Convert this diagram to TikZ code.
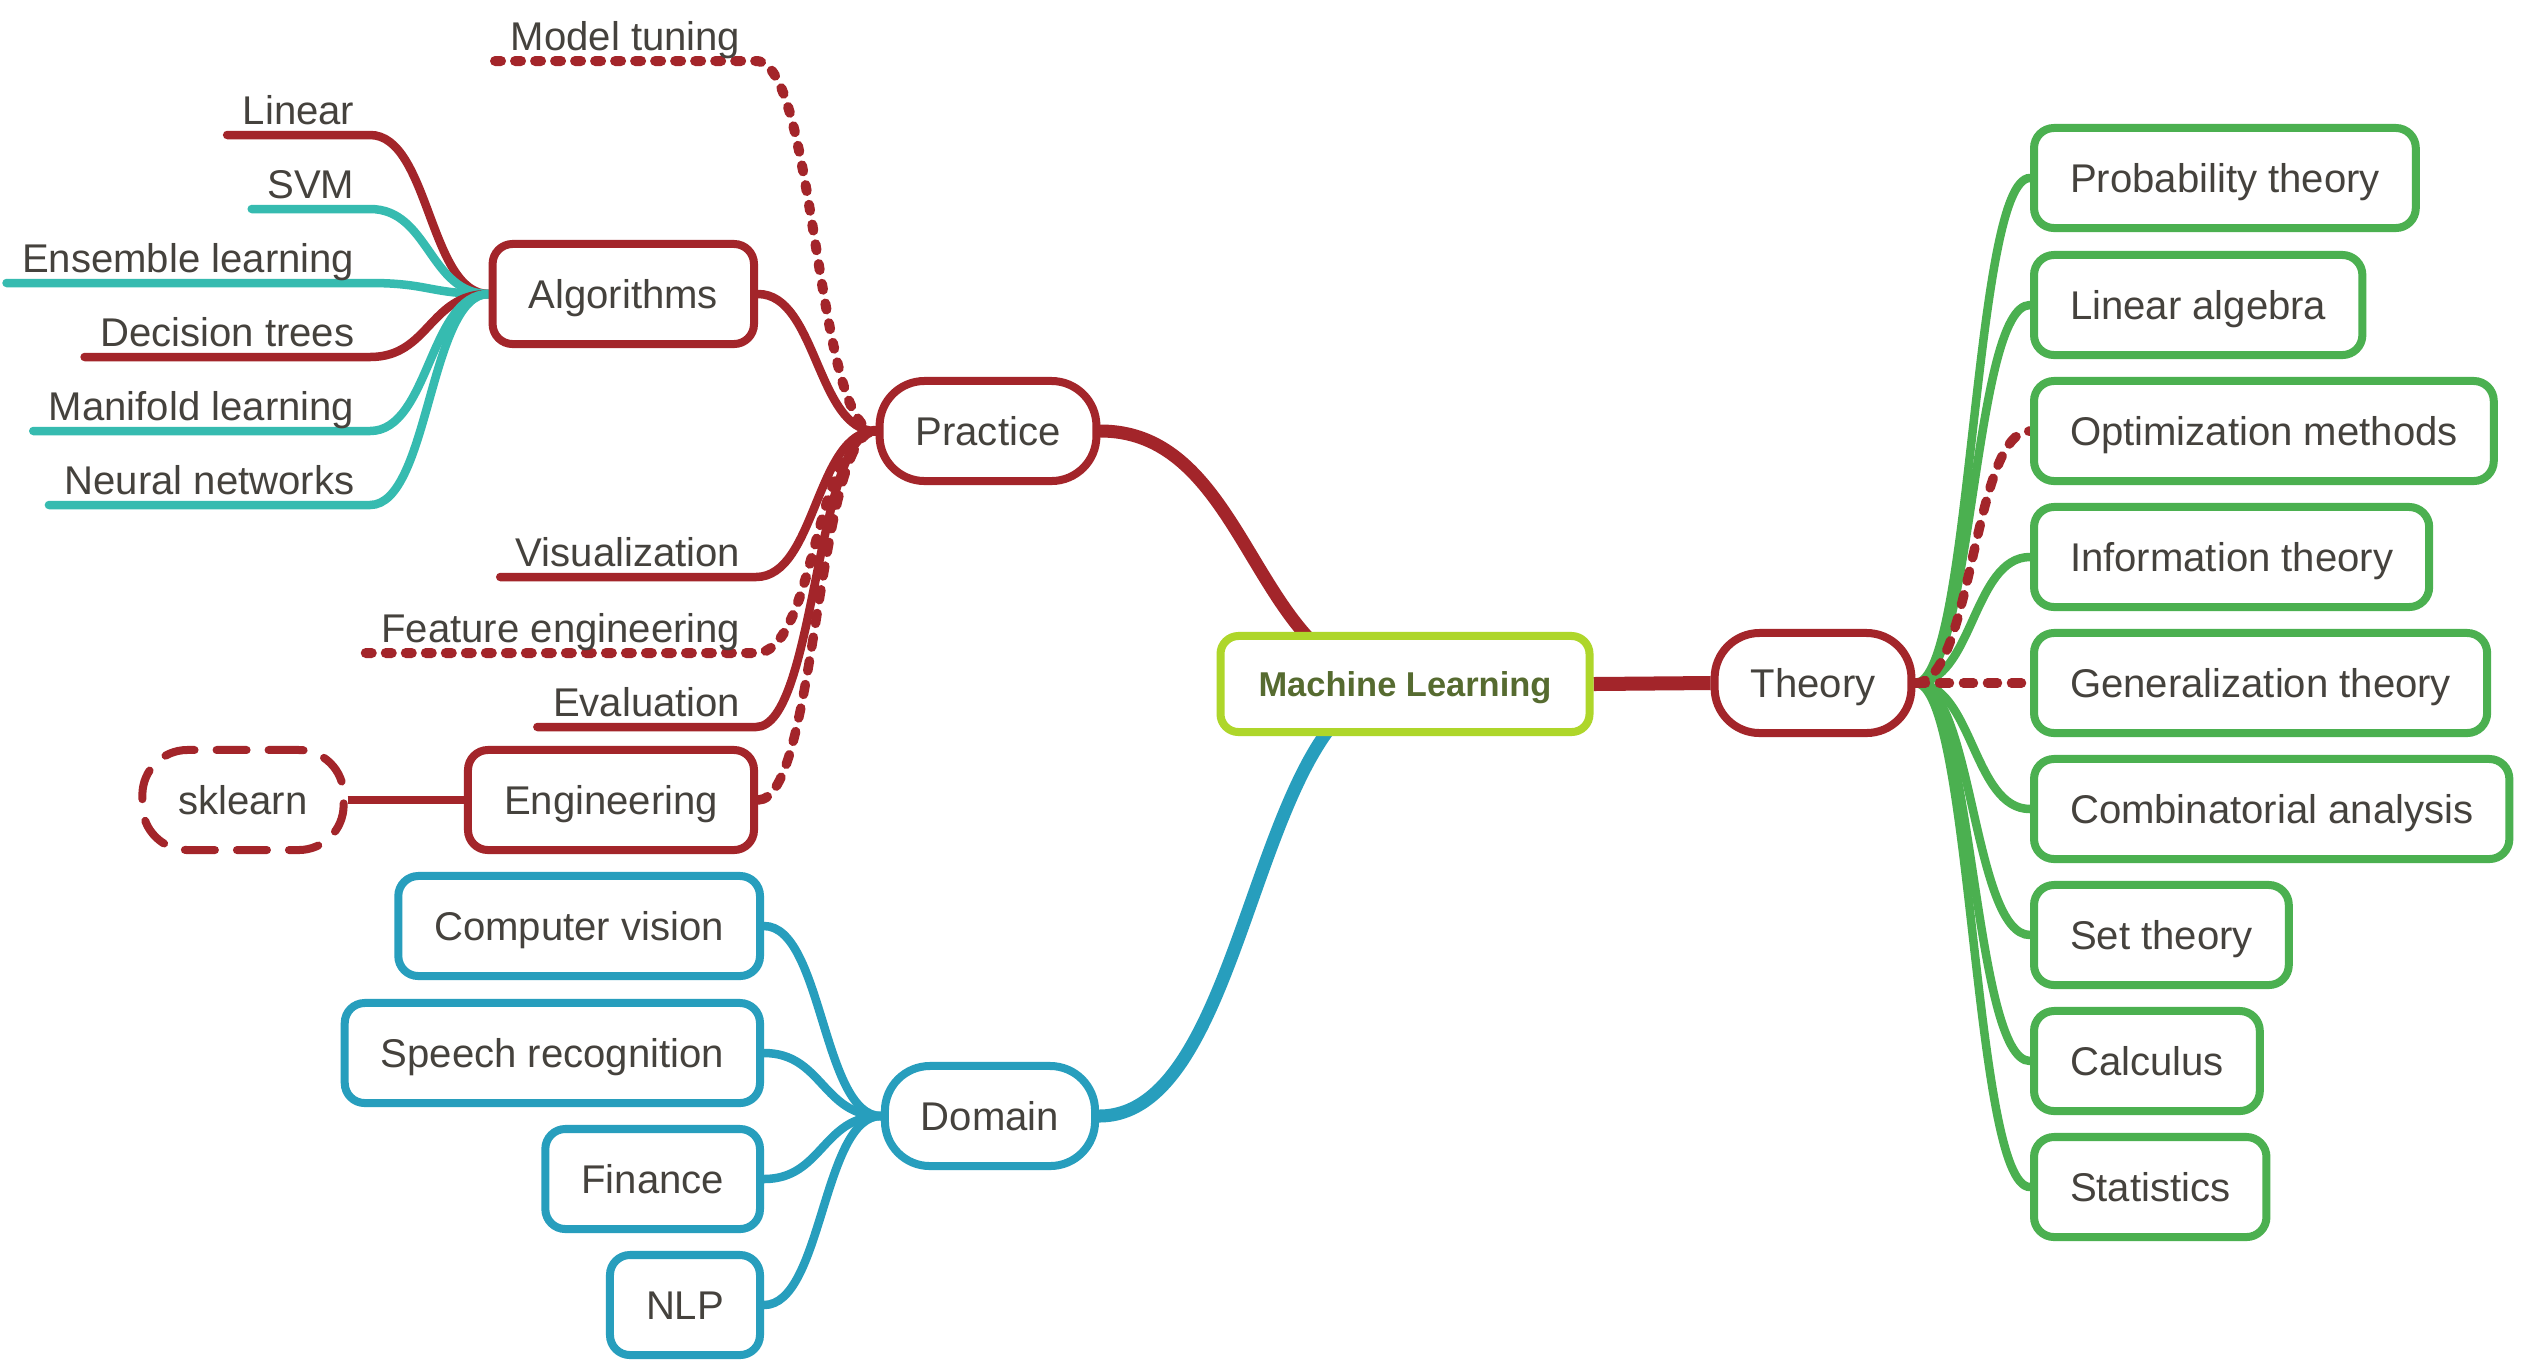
\documentclass[tikz,border=0pt]{standalone}
\usepackage{fontspec}
\setmainfont{Liberation Sans}
\usetikzlibrary{calc,backgrounds}
\definecolor{mred}{HTML}{A3252A}
\definecolor{mgreen}{HTML}{4BB050}
\definecolor{mteal}{HTML}{36BBB0}
\definecolor{mblue}{HTML}{279EBD}
\definecolor{mlime}{HTML}{AED62A}
\definecolor{mtext}{HTML}{45423D}
\definecolor{mmltext}{HTML}{566B30}
\begin{document}
\begin{tikzpicture}[x=0.01cm,y=-0.01cm,
  every node/.style={font=\fontsize{11.4pt}{13pt}\selectfont, text=mtext},
  box/.style={draw, fill=white, line width=0.08cm, rounded corners=0.2cm, inner xsep=0.36cm, inner ysep=0pt, minimum height=1.0cm, text height=0.28cm, text depth=0cm},
  pill/.style={box, rounded corners=0.45cm},
  leaf/.style={inner xsep=0.15cm, inner ysep=0.1cm, text depth=0pt, anchor=south east},
  hs/.style={to path={let \p1=(\tikztostart), \p2=(\tikztotarget) in .. controls ({0.5*\x1+0.5*\x2},\y1) and ({0.5*\x1+0.5*\x2},\y2) .. (\tikztotarget)}},
  conn/.style={line width=0.085cm, line cap=round},
  mainconn/.style={line width=0.13cm, line cap=round},
  dots/.style={conn, line width=0.1cm, dash pattern=on 0.06cm off 0.14cm},
  dashes/.style={conn, line width=0.095cm, dash pattern=on 0.1cm off 0.14cm},
]
\useasboundingbox (0,0) rectangle (2522,1366);

% central and main branches
\node[box, draw=mlime, rounded corners=0.18cm, minimum height=0.96cm, text height=0.245cm, inner xsep=0.38cm,
      font=\fontsize{9.8pt}{12pt}\selectfont\bfseries, text=mmltext] (ml) at (1405,684) {Machine Learning};
\node[pill, draw=mred] (theory) at (1813,683) {Theory};
\node[pill, draw=mred] (practice) at (988,431) {Practice};
\node[pill, draw=mblue] (domain) at (990,1116) {Domain};

% theory children
\begin{scope}[every node/.append style={box, draw=mgreen, anchor=west}]
\node (prob) at (2030,178) {Probability theory};
\node (lina) at (2030,305) {Linear algebra};
\node (opt)  at (2030,431) {Optimization methods};
\node (info) at (2030,557) {Information theory};
\node (gen)  at (2030,683) {Generalization theory};
\node (comb) at (2030,809) {Combinatorial analysis};
\node (sett) at (2030,935) {Set theory};
\node (calc) at (2030,1061) {Calculus};
\node (stat) at (2030,1187) {Statistics};
\end{scope}

% domain children
\begin{scope}[every node/.append style={box, draw=mblue, anchor=east}]
\node (cv)  at (764,926)  {Computer vision};
\node (sr)  at (764,1053) {Speech recognition};
\node (fin) at (764,1179) {Finance};
\node (nlp) at (764,1305) {NLP};
\end{scope}

% practice children
\node[box, draw=mred, anchor=east] (alg) at (758,294) {Algorithms};
\node[box, draw=mred, anchor=east] (eng) at (758,800) {Engineering};
\node[pill, draw=mred, dash pattern=on 0.3cm off 0.22cm, line cap=round] (sk) at (243,800) {sklearn};

\node[leaf] (tune) at (756,61)  {Model tuning};
\node[leaf] (vis)  at (756,577) {Visualization};
\node[leaf] (feat) at (756,653) {Feature engineering};
\node[leaf] (eval) at (756,727) {Evaluation};

% algorithm leaves
\node[leaf] (lin)  at (370,135) {Linear};
\node[leaf] (svm)  at (370,209) {SVM};
\node[leaf] (ens)  at (370,283) {Ensemble learning};
\node[leaf] (dec)  at (370,357) {Decision trees};
\node[leaf] (man)  at (370,431) {Manifold learning};
\node[leaf] (nn)   at (370,505) {Neural networks};

\begin{scope}[on background layer]
\fill[white] (0,0) rectangle (2522,1366);
% main branches
\draw[mainconn, mred, line width=0.14cm, line cap=butt] (ml.east) -- (theory.west);
\draw[mainconn, mred] (ml.center) to[hs] (practice.east);
\draw[mainconn, mblue] (ml.center) to[hs] (domain.east);
% theory
\foreach \k in {prob,lina,info,comb,sett,calc,stat}
  \draw[conn, mgreen] (theory.east) to[hs] (\k.west);
\draw[dashes, mred] (theory.east) to[hs] (opt.west);
\draw[dashes, mred] (theory.east) -- (gen.west);
% domain
\foreach \k in {cv,sr,fin,nlp}
  \draw[conn, mblue] (domain.west) to[hs] (\k.east);
% practice
\draw[conn, mred] (alg.east) to[hs] (practice.west);
\draw[dashes, mred] (eng.east) to[hs] (practice.west);
\draw[dots, mred] (tune.south west) -- (tune.south east) to[hs] (practice.west);
\draw[conn, mred] (vis.south west) -- (vis.south east) to[hs] (practice.west);
\draw[dots, mred] (feat.south west) -- (feat.south east) to[hs] (practice.west);
\draw[conn, mred] (eval.south west) -- (eval.south east) to[hs] (practice.west);
\draw[conn, mred, line cap=butt] (sk.east) -- (eng.west);
% algorithms
\draw[conn, mred]  (lin.south west) -- (lin.south east) to[hs] (alg.west);
\draw[conn, mteal] (svm.south west) -- (svm.south east) to[hs] (alg.west);
\draw[conn, mteal] (ens.south west) -- (ens.south east) to[hs] (alg.west);
\draw[conn, mred]  (dec.south west) -- (dec.south east) to[hs] (alg.west);
\draw[conn, mteal] (man.south west) -- (man.south east) to[hs] (alg.west);
\draw[conn, mteal] (nn.south west) -- (nn.south east) to[hs] (alg.west);
\end{scope}
\end{tikzpicture}
\end{document}
